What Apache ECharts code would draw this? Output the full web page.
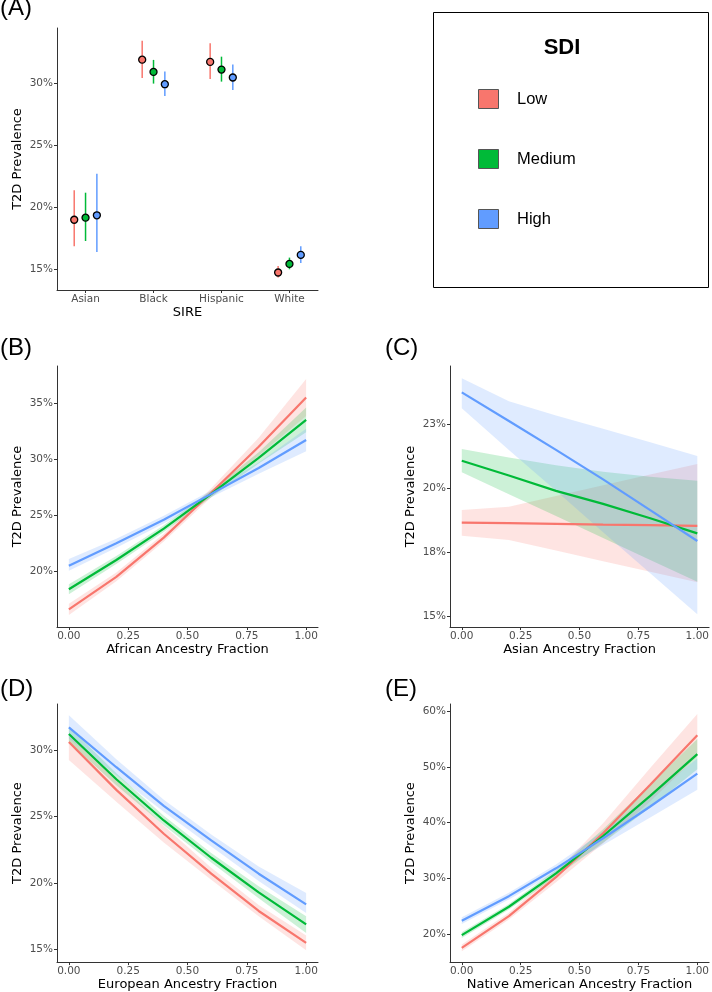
<!DOCTYPE html>
<html>
<head>
<meta charset="utf-8">
<script src="https://cdn.jsdelivr.net/npm/echarts@6/dist/echarts.min.js"></script>
<style>html,body{margin:0;padding:0;background:#fff}#main{width:712px;height:992px}</style>
</head>
<body>
<div id="main"></div>
<script>
// ---------- DATA ----------
const sdiLevels = ['Low', 'Medium', 'High'];
const sire = ['Asian', 'Black', 'Hispanic', 'White'];
// Panel A: point estimates and intervals (%)
const aLow    = [19.0, 31.9, 31.72, 14.75];
const aLowLo  = [16.86, 30.43, 30.35, 14.34];
const aLowHi  = [21.37, 33.43, 33.22, 15.28];
const aMed    = [19.17, 30.91, 31.10, 15.44];
const aMedLo  = [17.29, 29.97, 30.13, 15.01];
const aMedHi  = [21.18, 31.88, 32.14, 15.95];
const aHigh   = [19.36, 29.92, 30.46, 16.17];
const aHighLo = [16.41, 28.98, 29.46, 15.52];
const aHighHi = [22.71, 30.94, 31.50, 16.86];

// Ancestry fraction grid for panels B-E
const fracs = [0, 0.2, 0.4, 0.6, 0.8, 1.0];

// Panel B: African ancestry
const bLow    = [16.6, 19.5, 23.0, 27.0, 31.1, 35.5];
const bLowLo  = [16.1, 19.1, 22.65, 26.6, 30.3, 33.85];
const bLowHi  = [17.1, 19.9, 23.35, 27.4, 31.9, 37.15];
const bMed    = [18.4, 21.0, 23.8, 26.9, 30.1, 33.5];
const bMedLo  = [17.95, 20.65, 23.5, 26.6, 29.6, 32.4];
const bMedHi  = [18.85, 21.35, 24.1, 27.2, 30.6, 34.6];
const bHigh   = [20.5, 22.5, 24.6, 26.9, 29.2, 31.7];
const bHighLo = [20.05, 22.1, 24.25, 26.6, 28.7, 30.7];
const bHighHi = [21.1, 22.9, 24.95, 27.2, 29.7, 32.7];

// Panel C: Asian ancestry
const cLow    = [18.66, 18.64, 18.61, 18.58, 18.56, 18.53];
const cLowLo  = [18.15, 17.98, 17.57, 17.15, 16.74, 16.33];
const cLowHi  = [19.15, 19.28, 19.7, 20.12, 20.54, 20.95];
const cMed    = [21.08, 20.5, 19.9, 19.39, 18.83, 18.24];
const cMedLo  = [20.63, 19.77, 18.92, 18.06, 17.2, 16.35];
const cMedHi  = [21.54, 21.2, 20.9, 20.65, 20.45, 20.3];
const cHigh   = [23.75, 22.63, 21.5, 20.35, 19.15, 17.94];
const cHighLo = [23.13, 21.5, 19.9, 18.28, 16.68, 15.08];
const cHighHi = [24.3, 23.4, 22.85, 22.33, 21.8, 21.26];

// Panel D: European ancestry
const dLow    = [30.6, 27.0, 23.7, 20.7, 17.9, 15.5];
const dLowLo  = [29.25, 26.1, 23.05, 20.25, 17.5, 14.95];
const dLowHi  = [31.05, 27.7, 24.3, 21.15, 18.35, 16.05];
const dMed    = [31.2, 27.8, 24.7, 21.9, 19.3, 16.9];
const dMedLo  = [30.6, 27.35, 24.35, 21.55, 18.85, 16.25];
const dMedHi  = [31.75, 28.25, 25.05, 22.25, 19.75, 17.5];
const dHigh   = [31.7, 28.7, 25.8, 23.2, 20.7, 18.4];
const dHighLo = [30.85, 28.1, 25.35, 22.75, 20.15, 17.75];
const dHighHi = [32.6, 29.3, 26.25, 23.65, 21.25, 19.25];

// Panel E: Native American ancestry
const eLow    = [17.5, 23.2, 30.2, 38.1, 46.8, 55.7];
const eLowLo  = [16.9, 22.6, 29.3, 36.3, 43.8, 51.9];
const eLowHi  = [18.1, 23.8, 31.1, 39.9, 49.8, 59.5];
const eMed    = [19.8, 24.9, 30.9, 37.6, 44.8, 52.3];
const eMedLo  = [19.3, 24.4, 30.3, 36.4, 42.7, 49.6];
const eMedHi  = [20.3, 25.4, 31.5, 38.8, 46.9, 55.0];
const eHigh   = [22.4, 26.8, 31.8, 37.2, 42.9, 48.8];
const eHighLo = [21.8, 26.2, 31.1, 36.0, 40.9, 45.9];
const eHighHi = [23.0, 27.4, 32.5, 38.4, 44.9, 51.5];

// Tick values
const xTicksFrac = [0, 0.25, 0.5, 0.75, 1];
const xTicksSire = [1, 2, 3, 4];
const yTicksA = [15, 20, 25, 30];
const yTicksB = [20, 25, 30, 35];
const yTicksC = [15, 17.5, 20, 22.5];
const yTicksD = [15, 20, 25, 30];
const yTicksE = [20, 30, 40, 50, 60];

// ---------- STYLE ----------
const COL = { Low: '#F8766D', Medium: '#00BA38', High: '#619CFF' };
const FILL = { Low: 'rgba(248,118,109,0.2)', Medium: 'rgba(0,186,56,0.2)', High: 'rgba(97,156,255,0.2)' };
const FONT = 'DejaVu Sans';
const AX = '#333333';

const grids = [
  { left: 57, top: 28, width: 261, height: 262 },      // A
  { left: 57, top: 366, width: 261, height: 261 },     // B
  { left: 450, top: 366, width: 262, height: 261 },    // C
  { left: 57, top: 704, width: 261, height: 261 },     // D
  { left: 450, top: 704, width: 262, height: 260 }     // E
];

function baseAxis(gi) {
  return {
    gridIndex: gi,
    type: 'value',
    axisLine: { show: true, onZero: false, lineStyle: { color: AX, width: 1 } },
    splitLine: { show: false },
    nameLocation: 'middle',
    nameTextStyle: { fontFamily: FONT, fontSize: 13, color: '#000' }
  };
}
function xAxisFrac(gi, name) {
  return Object.assign(baseAxis(gi), {
    min: -0.05, max: 1.05, name: name, nameGap: 15,
    axisTick: { show: true, length: 3, lineStyle: { color: AX }, customValues: xTicksFrac },
    axisLabel: { customValues: xTicksFrac, formatter: v => v.toFixed(2), color: '#4d4d4d', fontFamily: FONT, fontSize: 10.5, margin: 4 }
  });
}
function yAxisPct(gi, min, max, ticks) {
  return Object.assign(baseAxis(gi), {
    min: min, max: max, name: 'T2D Prevalence', nameGap: 33,
    axisTick: { show: true, length: 3, lineStyle: { color: AX }, customValues: ticks },
    axisLabel: { customValues: ticks, formatter: v => Math.round(v) + '%', color: '#4d4d4d', fontFamily: FONT, fontSize: 10.5, margin: 4 }
  });
}

const xAxes = [
  Object.assign(baseAxis(0), {
    min: 0.58, max: 4.42, name: 'SIRE', nameGap: 14,
    axisTick: { show: true, length: 3, lineStyle: { color: AX }, customValues: xTicksSire },
    axisLabel: { customValues: xTicksSire, formatter: v => sire[Math.round(v) - 1] || '', color: '#4d4d4d', fontFamily: FONT, fontSize: 10.5, margin: 4 }
  }),
  xAxisFrac(1, 'African Ancestry Fraction'),
  xAxisFrac(2, 'Asian Ancestry Fraction'),
  xAxisFrac(3, 'European Ancestry Fraction'),
  xAxisFrac(4, 'Native American Ancestry Fraction')
];
const yAxes = [
  yAxisPct(0, 13.34, 34.45, yTicksA),
  yAxisPct(1, 15.03, 38.3, yTicksB),
  yAxisPct(2, 14.58, 24.78, yTicksC),
  yAxisPct(3, 14.06, 33.45, yTicksD),
  yAxisPct(4, 14.96, 61.3, yTicksE)
];

const series = [];

// Panel A
const panelA = {
  Low: [aLow, aLowLo, aLowHi],
  Medium: [aMed, aMedLo, aMedHi],
  High: [aHigh, aHighLo, aHighHi]
};
sdiLevels.forEach((lvl, k) => {
  const off = (k - 1) / 6;
  const [m, lo, hi] = panelA[lvl];
  series.push({
    type: 'custom', name: lvl, xAxisIndex: 0, yAxisIndex: 0, z: 2, silent: true,
    data: sire.map((s, i) => [i + 1 + off, lo[i], hi[i]]),
    encode: { x: 0, y: [1, 2] },
    renderItem: (params, api) => {
      const p1 = api.coord([api.value(0), api.value(1)]);
      const p2 = api.coord([api.value(0), api.value(2)]);
      return { type: 'line', shape: { x1: p1[0], y1: p1[1], x2: p2[0], y2: p2[1] }, style: { stroke: COL[lvl], lineWidth: 1.5 } };
    }
  });
  series.push({
    type: 'scatter', name: lvl, xAxisIndex: 0, yAxisIndex: 0, z: 4, silent: true,
    data: sire.map((s, i) => [i + 1 + off, m[i]]),
    symbol: 'circle', symbolSize: 7,
    itemStyle: { color: COL[lvl], borderColor: '#000', borderWidth: 1.3, opacity: 1 }
  });
});

// Panels B-E
const panels = [
  { gi: 1, Low: [bLow, bLowLo, bLowHi], Medium: [bMed, bMedLo, bMedHi], High: [bHigh, bHighLo, bHighHi] },
  { gi: 2, Low: [cLow, cLowLo, cLowHi], Medium: [cMed, cMedLo, cMedHi], High: [cHigh, cHighLo, cHighHi] },
  { gi: 3, Low: [dLow, dLowLo, dLowHi], Medium: [dMed, dMedLo, dMedHi], High: [dHigh, dHighLo, dHighHi] },
  { gi: 4, Low: [eLow, eLowLo, eLowHi], Medium: [eMed, eMedLo, eMedHi], High: [eHigh, eHighLo, eHighHi] }
];
panels.forEach(p => {
  sdiLevels.forEach(lvl => {
    const [m, lo, hi] = p[lvl];
    series.push({
      type: 'custom', name: lvl + ' CI', xAxisIndex: p.gi, yAxisIndex: p.gi, z: 1, silent: true,
      data: [[fracs[0], m[0]]],
      renderItem: (params, api) => {
        const pts = [];
        fracs.forEach((x, i) => pts.push(api.coord([x, hi[i]])));
        for (let i = fracs.length - 1; i >= 0; i--) pts.push(api.coord([fracs[i], lo[i]]));
        return { type: 'polygon', shape: { points: pts }, style: { fill: FILL[lvl], stroke: null } };
      }
    });
  });
  sdiLevels.forEach(lvl => {
    const m = p[lvl][0];
    series.push({
      type: 'line', name: lvl, xAxisIndex: p.gi, yAxisIndex: p.gi, z: 3, silent: true,
      data: fracs.map((x, i) => [x, m[i]]),
      symbol: 'none', smooth: false,
      lineStyle: { color: COL[lvl], width: 2.2 },
      itemStyle: { color: COL[lvl] }
    });
  });
});

// Panel tags and legend box
const graphic = [];
[['(A)', 0, 10], ['(B)', 0, 350], ['(C)', 385, 350], ['(D)', 0, 691], ['(E)', 385, 691]].forEach(([t, x, y]) => {
  graphic.push({ type: 'text', left: x, top: y - 14, style: { text: t, font: '24px "Liberation Sans", Arial, sans-serif', fill: '#000' } });
});
graphic.push({ type: 'rect', shape: { x: 433.5, y: 12.5, width: 275, height: 275 }, style: { fill: '#fff', stroke: '#000', lineWidth: 1 } });
graphic.push({ type: 'text', x: 562, y: 48, style: { text: 'SDI', font: 'bold 22px "Liberation Sans", Arial, sans-serif', fill: '#000', textAlign: 'center', textVerticalAlign: 'middle' } });
sdiLevels.forEach((lvl, k) => {
  const cy = 99 + k * 60;
  graphic.push({ type: 'rect', shape: { x: 478.5, y: cy - 9.5, width: 20, height: 19 }, style: { fill: COL[lvl], stroke: '#555', lineWidth: 1 } });
  graphic.push({ type: 'text', x: 517, y: cy, style: { text: lvl, font: '16.5px "Liberation Sans", Arial, sans-serif', fill: '#000', textVerticalAlign: 'middle' } });
});

const chart = echarts.init(document.getElementById('main'), null, { renderer: 'canvas' });
chart.setOption({
  backgroundColor: '#ffffff',
  animation: false,
  grid: grids,
  xAxis: xAxes,
  yAxis: yAxes,
  series: series,
  graphic: graphic
});
</script>
</body>
</html>
